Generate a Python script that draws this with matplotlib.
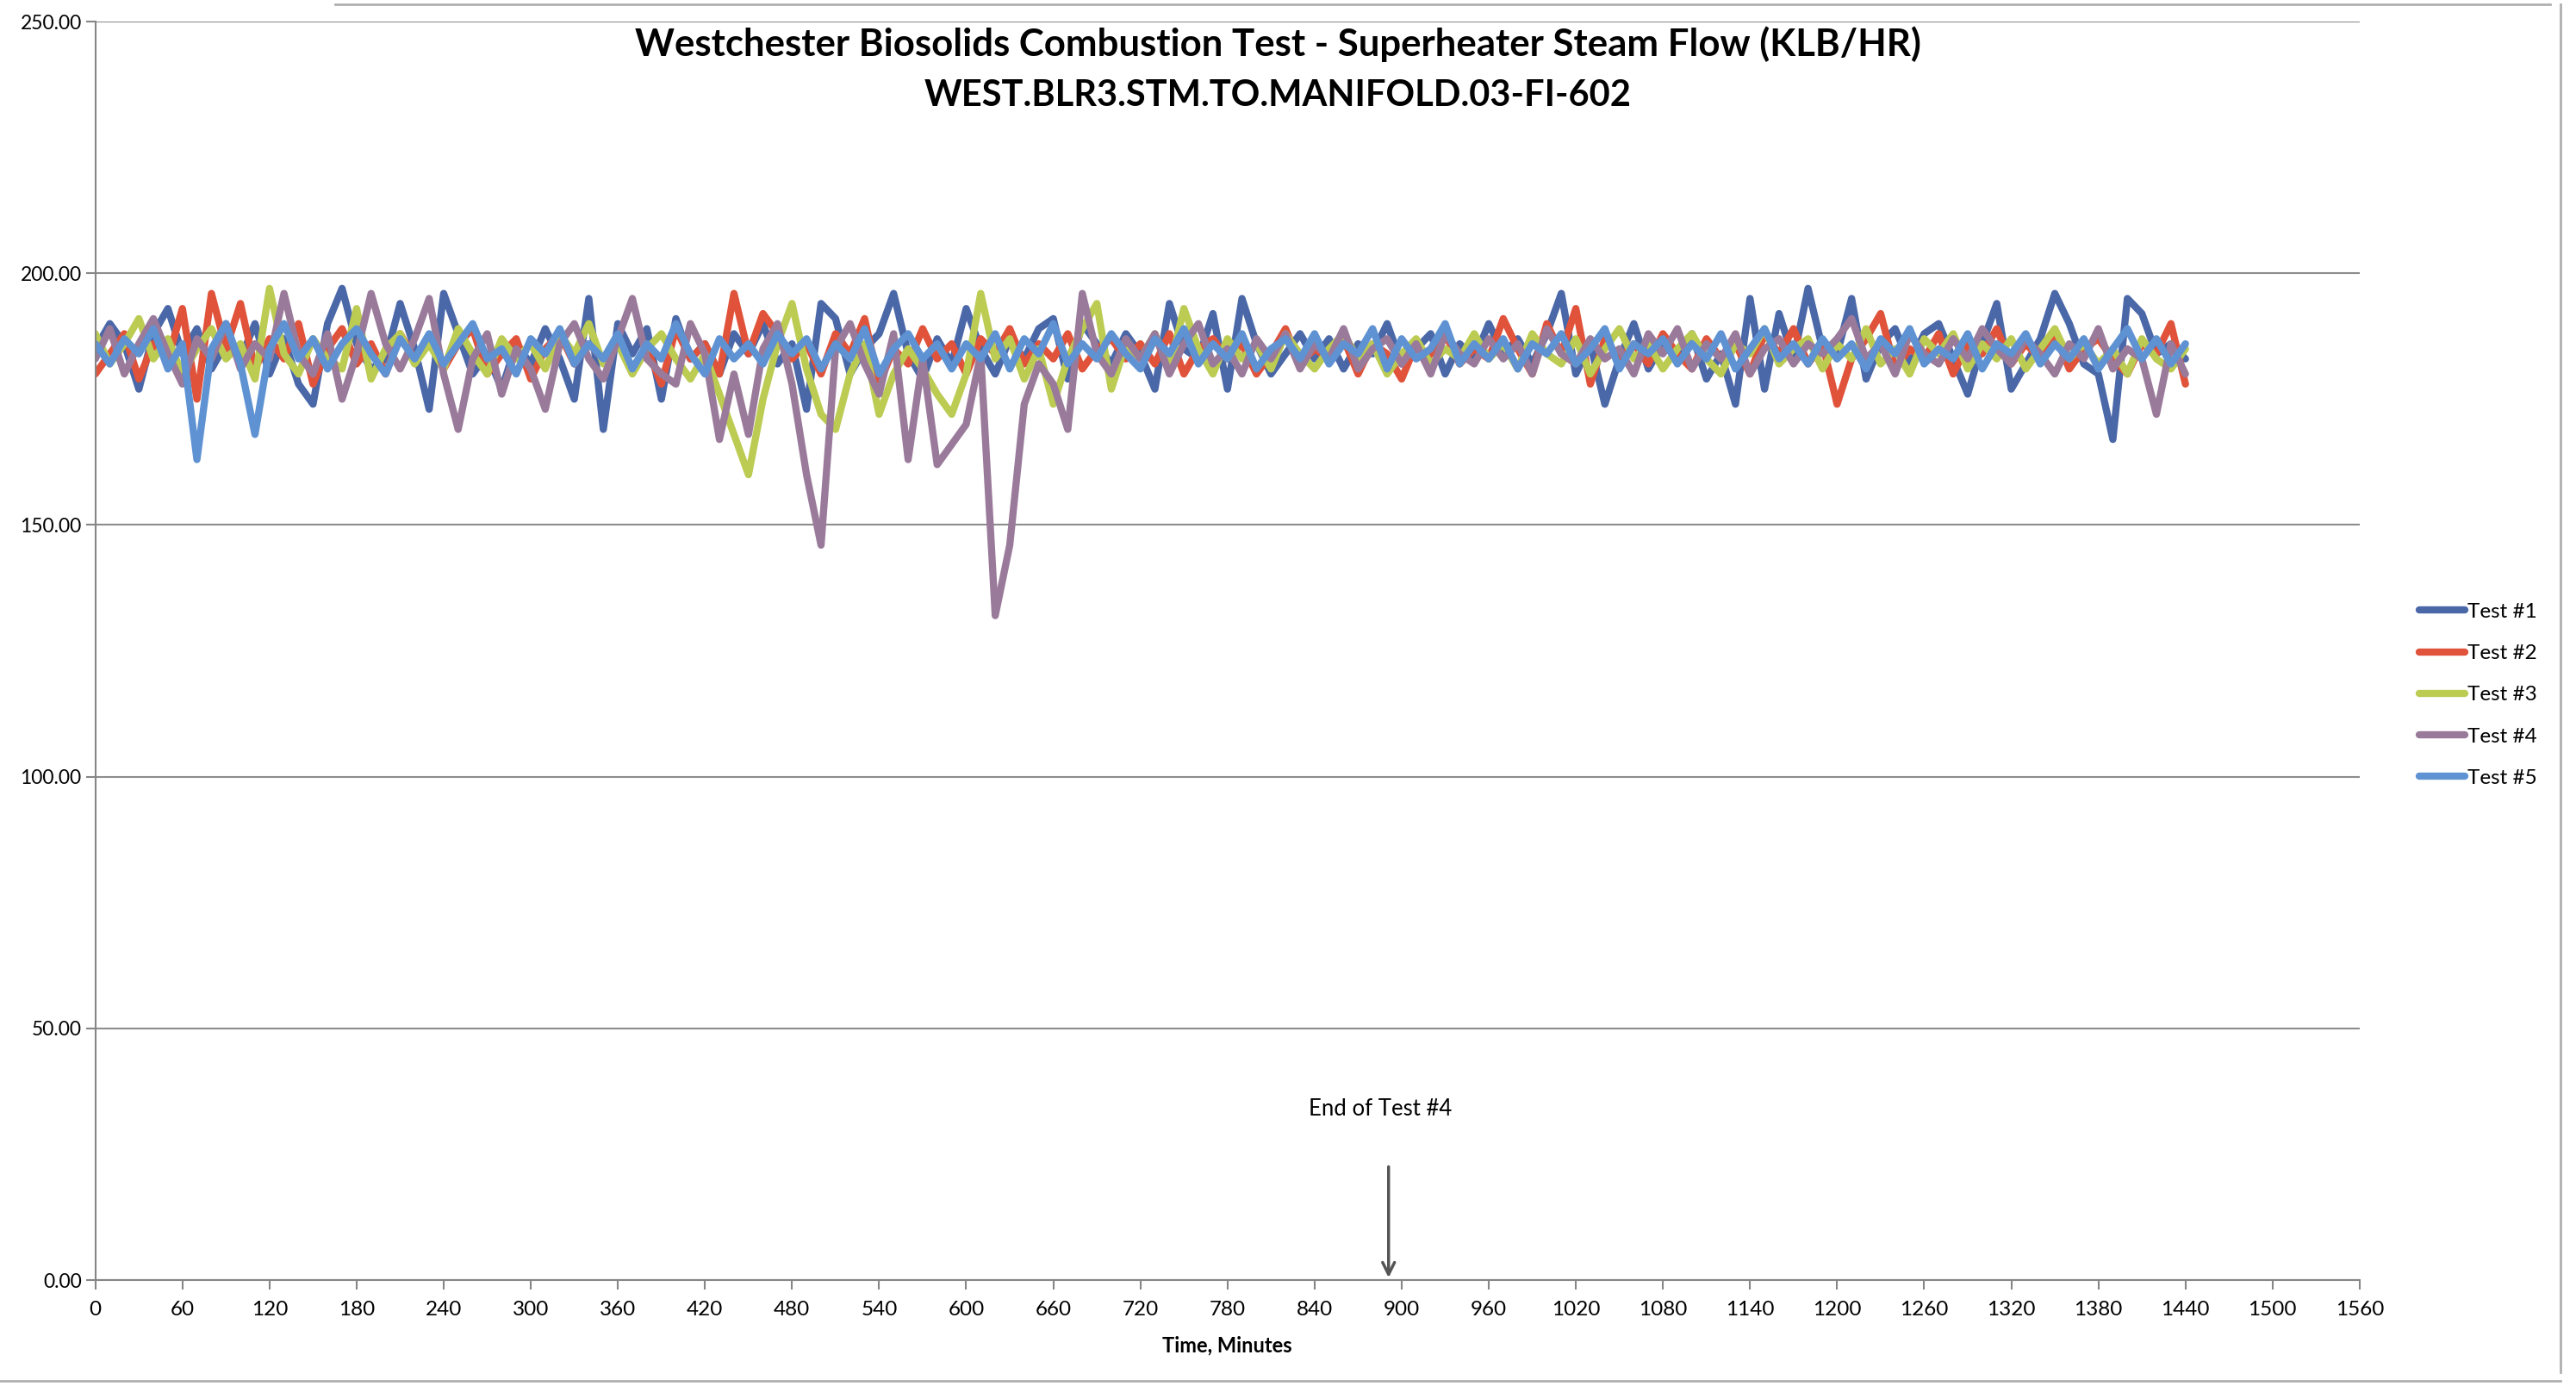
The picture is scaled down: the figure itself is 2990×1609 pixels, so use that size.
import numpy as np
import matplotlib.pyplot as plt
from matplotlib.lines import Line2D

plt.rcParams['font.family'] = ['Lato', 'DejaVu Sans']

# minutes since start of each test, one reading every 10 minutes
minutes = list(range(0, 1441, 10))

test1 = [
    185, 190, 186, 177, 188, 193, 184, 189, 181, 186, 183, 190,
    180, 187, 178, 174, 190, 197, 186, 181, 183, 194, 185, 173,
    196, 188, 180, 184, 177, 186, 182, 189, 183, 175, 195, 169,
    190, 184, 189, 175, 191, 183, 186, 180, 188, 184, 190, 182,
    186, 173, 194, 191, 180, 185, 188, 196, 184, 179, 187, 182,
    193, 185, 180, 187, 183, 189, 191, 179, 190, 186, 182, 188,
    184, 177, 194, 185, 183, 192, 177, 195, 186, 180, 184, 188,
    183, 187, 181, 186, 184, 190, 182, 185, 188, 180, 186, 183,
    190, 184, 187, 182, 188, 196, 180, 186, 174, 183, 190, 181,
    186, 183, 188, 179, 184, 174, 195, 177, 192, 183, 197, 185,
    184, 195, 179, 186, 189, 182, 188, 190, 183, 176, 186, 194,
    177, 182, 187, 196, 190, 182, 180, 167, 195, 192, 184, 186,
    183,
]

test2 = [
    180, 184, 188, 179, 186, 183, 193, 175, 196, 185, 194, 181,
    187, 183, 190, 178, 185, 189, 182, 186, 180, 188, 183, 187,
    181, 186, 189, 180, 184, 187, 179, 185, 188, 182, 186, 183,
    187, 181, 185, 178, 189, 183, 186, 180, 196, 184, 192, 188,
    183, 186, 180, 188, 184, 191, 178, 185, 182, 189, 183, 186,
    180, 187, 184, 189, 182, 186, 183, 188, 181, 185, 187, 183,
    186, 182, 188, 180, 185, 187, 183, 186, 180, 184, 189, 182,
    185, 183, 187, 180, 186, 184, 179, 186, 183, 188, 182, 185,
    183, 191, 185, 180, 190, 184, 193, 178, 187, 183, 186, 182,
    188, 184, 181, 187, 183, 186, 180, 188, 184, 189, 182, 186,
    174, 183, 187, 192, 181, 185, 183, 188, 180, 186, 184, 189,
    182, 186, 183, 188, 181, 185, 187, 183, 180, 186, 184, 190,
    178,
]

test3 = [
    188, 182, 186, 191, 183, 187, 180, 185, 189, 183, 186, 179,
    197, 184, 180, 187, 183, 181, 193, 179, 185, 188, 182, 186,
    181, 189, 184, 180, 187, 183, 186, 181, 188, 184, 190, 182,
    186, 180, 185, 188, 183, 179, 184, 176, 168, 160, 175, 186,
    194, 181, 172, 169, 180, 186, 172, 180, 185, 181, 176, 172,
    180, 196, 183, 187, 179, 185, 174, 183, 189, 194, 177, 186,
    183, 188, 181, 193, 185, 180, 187, 183, 186, 181, 188, 184,
    181, 185, 188, 183, 186, 180, 184, 187, 182, 185, 183, 188,
    183, 186, 181, 188, 184, 182, 187, 180, 185, 189, 183, 186,
    181, 185, 188, 183, 180, 186, 184, 189, 182, 185, 187, 181,
    186, 183, 189, 182, 185, 180, 187, 184, 188, 181, 186, 183,
    187, 181, 185, 189, 183, 186, 182, 185, 180, 187, 183, 181,
    185,
]

test4 = [
    183, 189, 180, 186, 191, 184, 178, 187, 183, 190, 181, 186,
    183, 196, 184, 180, 188, 175, 184, 196, 186, 181, 187, 195,
    180, 169, 183, 188, 176, 185, 181, 173, 186, 190, 183, 179,
    187, 195, 183, 180, 178, 190, 184, 167, 180, 168, 185, 190,
    178, 160, 146, 185, 190, 182, 176, 188, 163, 183, 162, 166,
    170, 184, 132, 146, 174, 182, 178, 169, 196, 184, 180, 187,
    183, 188, 180, 186, 190, 182, 185, 180, 187, 183, 188, 181,
    186, 183, 189, 181, 185, 187, 182, 186, 180, 188, 184, 182,
    187, 183, 186, 180, 189, 184, 182, 187, 183, 185, 180, 188,
    184, 189, 181, 186, 183, 188, 180, 185, 187, 182, 186, 184,
    187, 191, 183, 186, 180, 188, 184, 182, 187, 183, 189, 185,
    182, 187, 184, 180, 186, 183, 189, 181, 185, 183, 172, 186,
    180,
]

test5 = [
    186, 182, 187, 184, 189, 181, 186, 163, 185, 190, 182, 168,
    185, 190, 183, 187, 181, 186, 189, 184, 180, 187, 183, 188,
    182, 186, 190, 183, 185, 180, 187, 184, 189, 182, 186, 183,
    188, 181, 186, 183, 190, 184, 180, 187, 183, 186, 182, 188,
    184, 187, 181, 186, 183, 189, 180, 185, 188, 183, 186, 181,
    186, 183, 188, 181, 187, 184, 190, 182, 186, 183, 188, 184,
    181, 187, 184, 189, 182, 186, 183, 188, 181, 185, 187, 183,
    188, 182, 186, 184, 189, 181, 187, 183, 185, 190, 182, 186,
    183, 187, 181, 186, 184, 188, 182, 185, 189, 181, 186, 184,
    187, 182, 186, 183, 188, 181, 185, 189, 183, 186, 182, 187,
    183, 186, 181, 187, 184, 189, 182, 185, 183, 188, 181, 186,
    184, 188, 182, 186, 183, 187, 181, 185, 189, 183, 187, 182,
    186,
]

series_names = ['Test #1', 'Test #2', 'Test #3', 'Test #4', 'Test #5']
series_colors = ['#4a67a8', '#e0523a', '#bccb52', '#9a7a9a', '#5e92d2']

x_ticks = list(range(0, 1561, 60))
y_ticks = [0, 50, 100, 150, 200, 250]

end_test4_minute = 891


def main():
    fig = plt.figure(figsize=(29.9, 16.09), dpi=100)
    ax = fig.add_axes([0.037, 0.0764, 0.879, 0.908])

    for vals, name, col in zip([test1, test2, test3, test4, test5], series_names, series_colors):
        ax.plot(minutes, vals, color=col, lw=6, label=name,
                solid_joinstyle='round', solid_capstyle='round')

    ax.set_xlim(0, 1560)
    ax.set_ylim(0, 250)
    ax.set_xticks(x_ticks)
    ax.set_yticks(y_ticks)
    ax.set_yticklabels([f'{v:.2f}' for v in y_ticks])
    ax.tick_params(axis='both', labelsize=16.5, color='#868686', length=8, width=1.5)
    ax.tick_params(axis='x', labelsize=17.5, pad=9)
    ax.grid(axis='y', color='#8c8c8c', lw=1.5)
    ax.set_axisbelow(True)
    for side in ['top', 'right']:
        ax.spines[side].set_visible(False)
    for side in ['left', 'bottom']:
        ax.spines[side].set_color('#868686')
        ax.spines[side].set_linewidth(1.5)

    ax.set_xlabel('Time, Minutes', fontsize=17, fontweight='bold', labelpad=14)

    fig.text(0.496, 0.968, 'Westchester Biosolids Combustion Test - Superheater Steam Flow (KLB/HR)',
             ha='center', va='center', fontsize=31.5, fontweight='bold')
    fig.text(0.496, 0.931, 'WEST.BLR3.STM.TO.MANIFOLD.03-FI-602',
             ha='center', va='center', fontsize=30, fontweight='bold')

    ax.annotate('', xy=(end_test4_minute, 0), xytext=(end_test4_minute, 23),
                arrowprops=dict(arrowstyle='->', color='#555555', lw=2.5, mutation_scale=25))
    ax.text(end_test4_minute - 6, 34, 'End of Test #4', ha='center', va='center', fontsize=18.5)

    fig.legend(loc='center left', bbox_to_anchor=(0.939, 0.4985), frameon=False,
               fontsize=17.5, handlelength=2.2, handletextpad=0.1, labelspacing=1.12,
               borderaxespad=0, borderpad=0)

    # scanned page frame
    for xs, ys in [([0.13, 0.99], [0.997, 0.997]), ([0.994, 0.994], [0.01, 0.997]),
                   ([0.0, 0.994], [0.004, 0.004])]:
        fig.add_artist(Line2D(xs, ys, transform=fig.transFigure, color='#b0b0b0', lw=2))

    fig.savefig('out.png', dpi=100, facecolor='white')


if __name__ == "__main__":
    main()
